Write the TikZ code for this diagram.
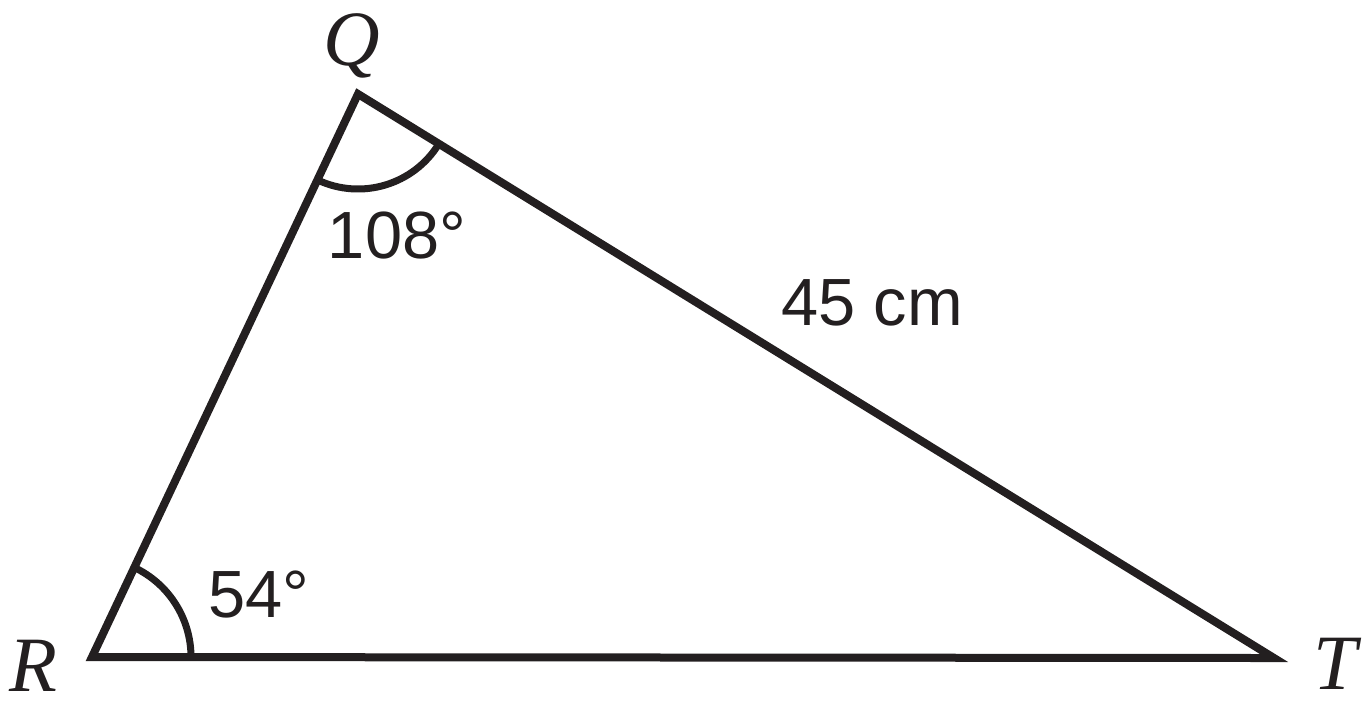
\documentclass[tikz,border=0pt]{standalone}
\usepackage{fontspec}
\setmainfont{Liberation Serif}
\setsansfont{Liberation Sans}
\definecolor{ink}{HTML}{231F20}
\tikzset{
  tri/.style={line width=0.08cm, draw=ink, line join=miter},
  anglearc/.style={line width=0.07cm, draw=ink},
  vlabel/.style={anchor=base, inner sep=0pt, text depth=0pt, text=ink, font=\fontsize{22.3}{26}\selectfont\itshape},
  mlabel/.style={anchor=base, inner sep=0pt, text=ink, font=\fontsize{19}{23}\selectfont\sffamily}
}
\begin{document}
\begin{tikzpicture}
\useasboundingbox (0,0) rectangle (13.66,7.03);
\coordinate (R) at (0.92,0.46);
\coordinate (Q) at (3.58,6.09);
\coordinate (T) at (12.74,0.45);
\draw[tri] (R) -- (Q) -- (T) -- cycle;
\draw[anglearc] ([shift={(0:0.99)}]R) arc (0:64.7:0.99);
\draw[anglearc] ([shift={(244.7:0.95)}]Q) arc (244.7:328.4:0.95);
\node[vlabel] (lQ) at (3.52,6.38) {Q};
\node[vlabel] (lR) at (0.33,0.12) {R};
\node[vlabel] (lT) at (13.35,0.14) {T};
\node[mlabel] (aQ) at (3.97,4.45) {108°};
\node[mlabel] (aR) at (2.59,0.86) {54°};
\node[mlabel] (sQT) at (8.72,3.78) {45 cm};
\end{tikzpicture}
\end{document}
